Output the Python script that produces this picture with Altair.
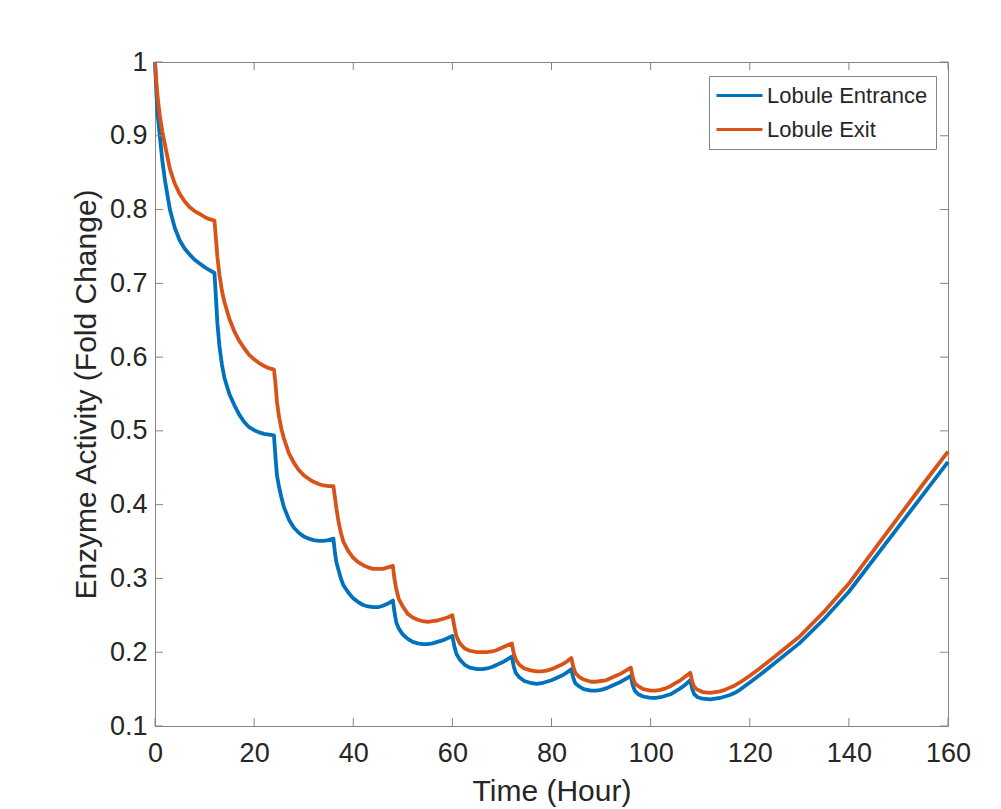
import altair as alt
import pandas as pd

# Time points (hours)
hours = [
    0, 0.3, 0.6, 1, 1.5, 2, 3, 4, 5, 6, 7, 8, 9, 10, 11,
    12, 12.3, 12.6, 13, 13.5, 14, 15, 16, 17, 18, 19, 20, 21, 22, 23,
    24, 24.3, 24.6, 25, 25.5, 26, 27, 28, 29, 30, 31, 32, 33, 34, 35,
    36, 36.3, 36.6, 37, 37.5, 38, 39, 40, 41, 42, 43, 44, 45, 46, 47,
    48, 48.3, 48.7, 49.2, 50, 51, 52, 53, 54, 55, 56, 57, 58, 59,
    60, 60.4, 60.8, 61.5, 62.5, 63.5, 65, 66, 67, 68, 69, 70, 71,
    72, 72.4, 72.8, 73.5, 74.5, 76, 77, 78, 79, 80, 81, 82, 83,
    84, 84.4, 84.8, 85.5, 86.5, 88, 89, 90, 91, 92, 93, 94, 95,
    96, 96.4, 96.8, 97.5, 98.5, 100, 101, 102, 103, 104, 105, 106, 107,
    108, 108.4, 108.8, 109.5, 110.5, 112, 113, 114, 115, 116, 117, 118,
    120, 122, 125, 130, 135, 140, 145, 150, 155, 160,
]

entrance = [
    1.0, 0.955, 0.925, 0.898, 0.865, 0.84, 0.80, 0.775, 0.758, 0.747, 0.739, 0.732, 0.727, 0.722, 0.718,
    0.714, 0.68, 0.645, 0.615, 0.59, 0.572, 0.55, 0.535, 0.522, 0.512, 0.505, 0.501, 0.498, 0.496, 0.495,
    0.494, 0.465, 0.44, 0.425, 0.41, 0.397, 0.38, 0.369, 0.362, 0.357, 0.354, 0.352, 0.351, 0.351, 0.352,
    0.354, 0.335, 0.322, 0.312, 0.30, 0.291, 0.281, 0.273, 0.268, 0.264, 0.262, 0.261, 0.261, 0.263, 0.266,
    0.270, 0.255, 0.24, 0.232, 0.224, 0.218, 0.214, 0.212, 0.211, 0.211, 0.212, 0.214, 0.216, 0.219,
    0.222, 0.208, 0.198, 0.19, 0.183, 0.179, 0.177, 0.177, 0.178, 0.180, 0.183, 0.186, 0.190,
    0.194, 0.18, 0.172, 0.166, 0.161, 0.158, 0.157, 0.158, 0.16, 0.162, 0.165, 0.168, 0.172,
    0.177, 0.165, 0.158, 0.154, 0.150, 0.148, 0.148, 0.149, 0.151, 0.154, 0.157, 0.160, 0.164,
    0.168, 0.155, 0.148, 0.143, 0.140, 0.138, 0.138, 0.139, 0.141, 0.143, 0.147, 0.151, 0.156,
    0.162, 0.150, 0.143, 0.139, 0.137, 0.136, 0.137, 0.138, 0.14, 0.142, 0.145, 0.149,
    0.159, 0.169, 0.185, 0.212, 0.245, 0.282, 0.326, 0.370, 0.414, 0.458,
]

exit_ = [
    1.0, 0.97, 0.948, 0.926, 0.905, 0.888, 0.855, 0.835, 0.821, 0.811, 0.803, 0.798, 0.794, 0.79, 0.787,
    0.785, 0.76, 0.735, 0.712, 0.69, 0.675, 0.652, 0.635, 0.622, 0.612, 0.603, 0.597, 0.592, 0.588, 0.585,
    0.583, 0.565, 0.54, 0.52, 0.503, 0.49, 0.47, 0.457, 0.447, 0.44, 0.435, 0.431, 0.428, 0.426, 0.425,
    0.425, 0.41, 0.395, 0.378, 0.362, 0.35, 0.337, 0.328, 0.322, 0.318, 0.315, 0.313, 0.313, 0.313, 0.315,
    0.317, 0.3, 0.285, 0.272, 0.262, 0.252, 0.247, 0.244, 0.242, 0.241, 0.242, 0.243, 0.245, 0.247,
    0.250, 0.235, 0.222, 0.212, 0.205, 0.202, 0.200, 0.200, 0.200, 0.201, 0.203, 0.206, 0.209,
    0.212, 0.198, 0.19, 0.183, 0.178, 0.175, 0.174, 0.174, 0.175, 0.177, 0.18, 0.183, 0.187,
    0.192, 0.18, 0.172, 0.167, 0.163, 0.160, 0.160, 0.161, 0.162, 0.165, 0.168, 0.171, 0.175,
    0.179, 0.166, 0.158, 0.154, 0.150, 0.148, 0.148, 0.149, 0.151, 0.154, 0.158, 0.162, 0.167,
    0.172, 0.16, 0.153, 0.149, 0.146, 0.145, 0.146, 0.147, 0.149, 0.152, 0.155, 0.159,
    0.168, 0.178, 0.194, 0.221, 0.255, 0.293, 0.338, 0.383, 0.428, 0.472,
]

series_names = ["Lobule Entrance", "Lobule Exit"]
series_colors = ["#0072BD", "#D95319"]

x_ticks = [0, 20, 40, 60, 80, 100, 120, 140, 160]
y_ticks = [0.1, 0.2, 0.3, 0.4, 0.5, 0.6, 0.7, 0.8, 0.9, 1.0]

W, H = 793, 664
FONT = "Liberation Sans"
TXT = "#262626"
AX = "#858585"

df = pd.concat([
    pd.DataFrame({"hour": hours, "value": entrance, "series": series_names[0]}),
    pd.DataFrame({"hour": hours, "value": exit_, "series": series_names[1]}),
])

x_scale = alt.Scale(domain=[0, 160], nice=False, zero=False)
y_scale = alt.Scale(domain=[0.1, 1.0], nice=False, zero=False)

common_axis = dict(ticks=False, grid=False, labelFlush=False,
                   domainColor=AX, domainWidth=1,
                   labelFont=FONT, labelFontSize=27, labelColor=TXT,
                   titleFont=FONT, titleFontSize=30, titleColor=TXT,
                   titleFontWeight="normal")

x_axis = alt.Axis(values=x_ticks, title="Time (Hour)", labelPadding=14,
                  titlePadding=10, format="d", **common_axis)
y_axis = alt.Axis(values=y_ticks, title="Enzyme Activity (Fold Change)",
                  labelPadding=8, titlePadding=8, format="~g", **common_axis)

lines = alt.Chart(df).mark_line(strokeWidth=3.8, strokeJoin="round", strokeCap="butt").encode(
    x=alt.X("hour:Q", scale=x_scale, axis=x_axis),
    y=alt.Y("value:Q", scale=y_scale, axis=y_axis),
    color=alt.Color("series:N",
                    scale=alt.Scale(domain=series_names, range=series_colors),
                    legend=alt.Legend(title=None, orient="none", legendX=554, legendY=14,
                                      symbolType="M-2.3,0H2.3", symbolSize=400,
                                      symbolOffset=11,
                                      symbolStrokeWidth=3, labelFontSize=22,
                                      labelFont=FONT, labelColor=TXT, labelOffset=16,
                                      labelLimit=400,
                                      strokeColor=AX, fillColor="white", padding=8,
                                      rowPadding=11, cornerRadius=0)),
    order=alt.Order("hour:Q"),
)

xt = pd.DataFrame({"hour": x_ticks})
yt = pd.DataFrame({"value": y_ticks})
TL = 8

tick_bottom = alt.Chart(xt).mark_rule(color=AX, strokeWidth=1).encode(
    x=alt.X("hour:Q", scale=x_scale, axis=x_axis), y=alt.value(H), y2=alt.value(H - TL))
tick_top = alt.Chart(xt).mark_rule(color=AX, strokeWidth=1).encode(
    x=alt.X("hour:Q", scale=x_scale, axis=x_axis), y=alt.value(0), y2=alt.value(TL))
tick_left = alt.Chart(yt).mark_rule(color=AX, strokeWidth=1).encode(
    y=alt.Y("value:Q", scale=y_scale, axis=y_axis), x=alt.value(0), x2=alt.value(TL))
tick_right = alt.Chart(yt).mark_rule(color=AX, strokeWidth=1).encode(
    y=alt.Y("value:Q", scale=y_scale, axis=y_axis), x=alt.value(W), x2=alt.value(W - TL))

chart = alt.layer(lines, tick_bottom, tick_top, tick_left, tick_right).properties(
    width=W, height=H,
    autosize=alt.AutoSizeParams(type="none"),
    padding={"left": 147, "top": 54, "right": 40, "bottom": 82},
    background="white",
).configure_view(
    stroke=AX, strokeWidth=1,
)

chart.save("out.html", embed_options={"renderer": "svg", "actions": False})
